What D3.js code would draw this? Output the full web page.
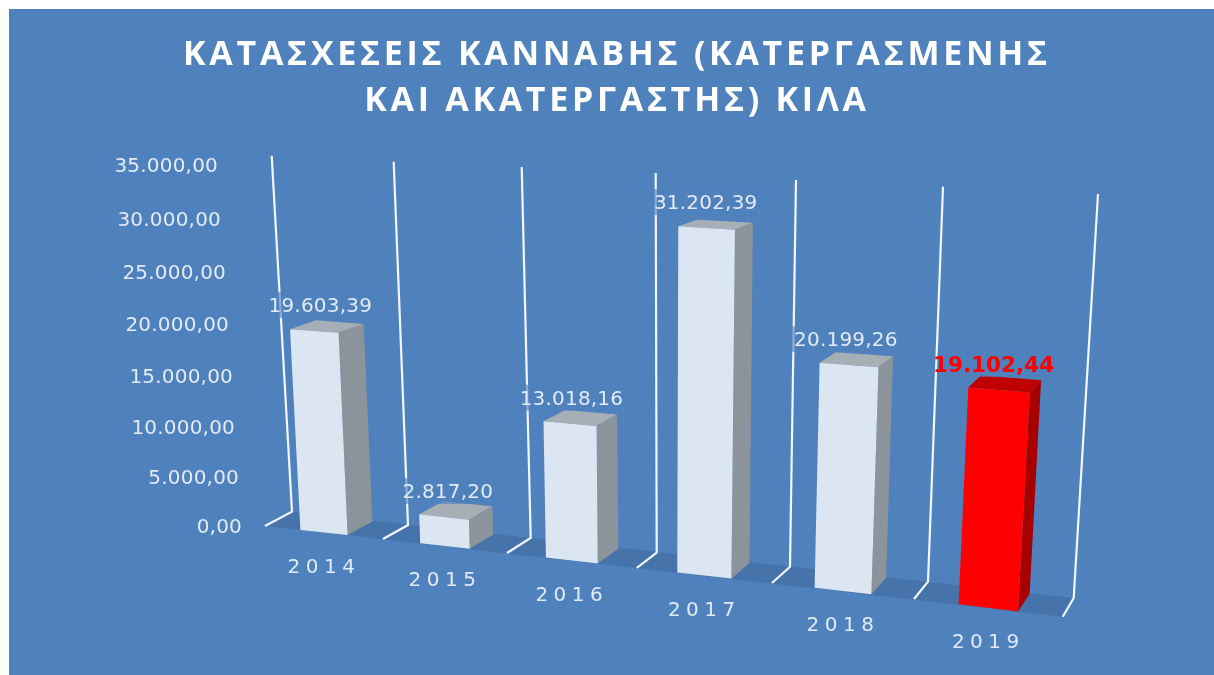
<!DOCTYPE html>
<html><head><meta charset="utf-8">
<style>html,body{margin:0;padding:0;background:#fff;overflow:hidden}svg{display:block;filter:blur(0.45px)}</style>
<script src="https://cdn.jsdelivr.net/npm/d3@7/dist/d3.min.js"></script>
</head><body><svg id="c" width="1214" height="675"></svg>
<script>
const titleLines = ["ΚΑΤΑΣΧΕΣΕΙΣ ΚΑΝΝΑΒΗΣ (ΚΑΤΕΡΓΑΣΜΕΝΗΣ", "ΚΑΙ ΑΚΑΤΕΡΓΑΣΤΗΣ) ΚΙΛΑ"];
const categories = ["2014","2015","2016","2017","2018","2019"];
const values = [19603.39,2817.20,13018.16,31202.39,20199.26,19102.44];
const highlighted = ["2019"];
const tickValues = [0,5000,10000,15000,20000,25000,30000,35000];

const W=1214,H=675,BLUE="#4f81bd";
const fmt = d3.formatLocale({decimal:",",thousands:".",grouping:[3],currency:["",""]}).format(",.2f");
const svg = d3.select("#c");
svg.append("rect").attr("width",W).attr("height",H).attr("fill","#fff");
svg.append("rect").attr("x",9).attr("y",9).attr("width",W-9).attr("height",H-9).attr("fill",BLUE);

// Perspective of the 3-D plot: one scale per projected edge, over category boundaries.
const slots = d3.range(categories.length+1);
const s = r => d3.scaleLinear().domain(slots).range(r);
const frontX = s([265,383,507,636.7,772,914,1062.7]);
const frontY = s([526,539,553,568,583,599,616.7]);
const backX  = s([292,408,530.7,656.7,790,928,1073.7]);
const backY  = s([511.7,525,538,552.7,566.7,581.7,598]);
const topX   = s([271.7,393.7,521.7,655.7,796,943,1098]);
const topY   = s([155.7,161.7,167,173,180,186.7,194]);
const yNorm  = d3.scaleLinear().domain([0,13000,20000,35000]).range([0,0.364,0.572,1.02]);
const depthK = d3.scaleLinear().domain([0,1]).range([1,0.975]);

function P(u,d,v){
  const bx=frontX(u)+(backX(u)-frontX(u))*d, by=frontY(u)+(backY(u)-frontY(u))*d;
  const t=yNorm(v)*depthK(d);
  return [bx+(topX(u)-backX(u))*t, by+(topY(u)-backY(u))*t];
}
const poly = pts => d3.line()(pts)+"Z";

// floor
svg.append("path").attr("fill","#4773ab")
  .attr("d",poly([P(0,0,0),P(6,0,0),P(6,1,0),P(0,1,0)]));

// gridlines
svg.append("g").selectAll("path").data(slots).join("path")
  .attr("fill","none").attr("stroke","#f2f5fa").attr("stroke-width",2.2)
  .attr("d",u=>d3.line()([[frontX(u),frontY(u)],[backX(u),backY(u)],[topX(u),topY(u)]]));

// tick labels
const tickY = d3.scaleLinear().domain(tickValues).range([526,477,427,376,324,272,219,165]);
const tickX = d3.scaleLinear().domain(tickValues).range([242,239,235,233,229,226,221,218]);
const NUM="'DejaVu Sans',sans-serif";
svg.append("g").selectAll("text").data(tickValues).join("text")
  .attr("x",v=>tickX(v)).attr("y",v=>tickY(v)).attr("dy","0.36em")
  .attr("text-anchor","end").attr("fill","#e3eaf4")
  .style("font",`20px ${NUM}`).style("letter-spacing","0.2px")
  .text(fmt);

// bars
const L=0.3,R=0.7,DB=0.97;
const isHi=c=>highlighted.includes(c);
const rows=categories.map((c,i)=>({c,i,v:values[i]}));
const bars=svg.append("g").selectAll("g").data(rows).join("g");
const faces=[
 {n:"top",f:d=>[P(d.i+L,0,d.v),P(d.i+R,0,d.v),P(d.i+R,DB,d.v),P(d.i+L,DB,d.v)],col:d=>isHi(d.c)?"#c00000":"#a7aeb6"},
 {n:"side",f:d=>[P(d.i+R,0,0),P(d.i+R,DB,0),P(d.i+R,DB,d.v),P(d.i+R,0,d.v)],col:d=>isHi(d.c)?"#a60000":"#8b939b"},
 {n:"front",f:d=>[P(d.i+L,0,0),P(d.i+R,0,0),P(d.i+R,0,d.v),P(d.i+L,0,d.v)],col:d=>isHi(d.c)?"#ff0000":"#dce6f2"}
];
faces.forEach(fc=>bars.append("path").attr("d",d=>poly(fc.f(d))).attr("fill",fc.col));

// value labels with translucent plate
const labelDx=d3.scaleLinear().domain([0,5]).range([6,-5.5]);
const lab=svg.append("g").selectAll("g").data(rows).join("g")
  .attr("transform",d=>{const p=P(d.i+0.5,0,d.v);return `translate(${p[0]+labelDx(d.i)},${p[1]-26})`;});
lab.append("rect").attr("x",-56).attr("y",-13).attr("width",112).attr("height",26).attr("fill",BLUE).attr("opacity",0.62);
lab.append("text").attr("text-anchor","middle").attr("dy","0.36em")
  .attr("fill",d=>isHi(d.c)?"#ff0000":"#e3eaf4")
  .style("font",d=>`${isHi(d.c)?"bold 21.5px":"20px"} ${NUM}`)
  .style("letter-spacing",d=>isHi(d.c)?"0px":"0.2px")
  .text(d=>fmt(d.v));

// category labels
svg.append("g").selectAll("text").data(categories).join("text")
  .attr("x",(c,i)=>P(i+0.5,0,0)[0]).attr("y",(c,i)=>P(i+0.5,0,0)[1]+33)
  .attr("dy","0.36em").attr("text-anchor","middle").attr("fill","#e3eaf4")
  .style("font",`20px ${NUM}`).style("letter-spacing","5.5px").text(c=>c);

// title
svg.append("g").selectAll("text").data(titleLines).join("text")
  .attr("x",617).attr("y",(d,i)=>65+i*45.7).attr("text-anchor","middle").attr("fill","#fff")
  .style("font","bold 34px 'Open Sans',sans-serif").style("letter-spacing","3.7px").text(d=>d);
</script></body></html>
